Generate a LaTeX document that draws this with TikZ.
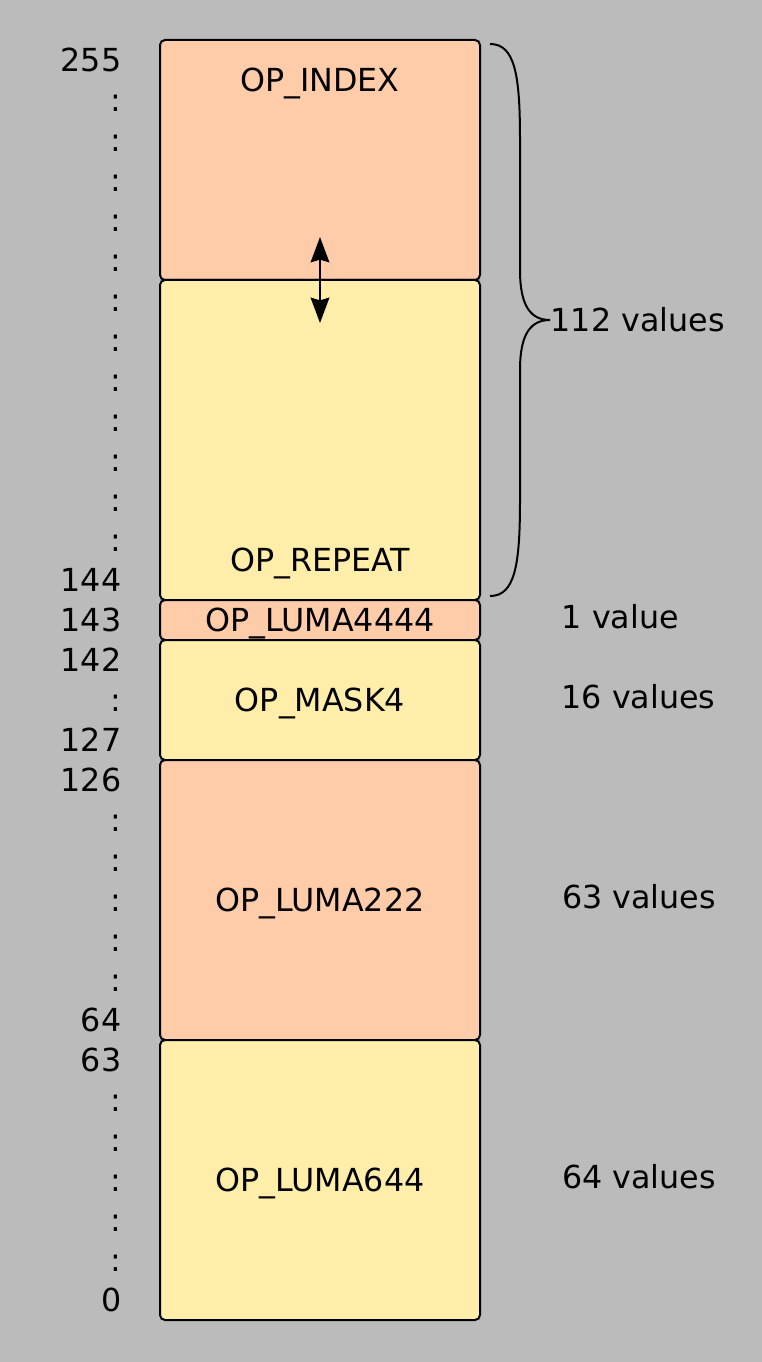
\documentclass[tikz,border=0pt]{standalone}
\usepackage{fontspec}
\setmainfont{DejaVu Sans}
\usetikzlibrary{arrows.meta,positioning}
\definecolor{bgcolor}{HTML}{BBBBBB}
\definecolor{peach}{HTML}{FFCCAA}
\definecolor{sand}{HTML}{FFEEAA}

\begin{document}
\begin{tikzpicture}[x=0.75pt, y=-0.75pt,
    font=\fontsize{23.8}{28}\selectfont,
    box/.style={draw, line width=1.5pt, rounded corners=3.75pt, outer sep=0pt,
                inner sep=0pt, minimum width=240pt, text height=17.35pt, text depth=0pt},
    tag/.style={inner sep=0pt, text height=17.35pt, text depth=0pt},
    num/.style={tag, anchor=east},
    note/.style={tag, anchor=west},
    >={Stealth[length=19pt, width=14pt, inset=2pt]},
    arr/.style={<->, line width=1.5pt}
  ]
  \fill[bgcolor] (0,0) rectangle (762,1362);

  % value ranges
  \node[box, fill=peach, minimum height=180pt] (index) at (320,160) {};
  \node[box, fill=sand,  minimum height=240pt, below=0pt of index]  (repeat) {};
  \node[box, fill=peach, minimum height=30pt,  below=0pt of repeat] (luma4444) {OP\_LUMA4444};
  \node[box, fill=sand,  minimum height=90pt,  below=0pt of luma4444] (mask) {OP\_MASK4};
  \node[box, fill=peach, minimum height=210pt, below=0pt of mask]   (luma222) {OP\_LUMA222};
  \node[box, fill=sand,  minimum height=210pt, below=0pt of luma222] (luma644) {OP\_LUMA644};
  \node[tag] (indextxt)  at ([yshift=-30pt]index.north) {OP\_INDEX};
  \node[tag] (repeattxt) at ([yshift=30pt]repeat.south) {OP\_REPEAT};

  % shared boundary between index and repeat
  \coordinate (up) at (320,237);
  \coordinate (dn) at (320,323);
  \draw[arr] (up) -- (dn);

  % byte values
  \node[num] (n255) at (121.5,60)   {255};
  \node[num] (n144) at (121.5,580)  {144};
  \node[num] (n143) at (121.5,620)  {143};
  \node[num] (n142) at (121.5,660)  {142};
  \node[num] (n127) at (121.5,740)  {127};
  \node[num] (n126) at (121.5,780)  {126};
  \node[num] (n64)  at (121.5,1020) {64};
  \node[num] (n63)  at (121.5,1060) {63};
  \node[num] (n0)   at (121.5,1300) {0};
  \foreach \y in {100,140,...,540,700,820,860,...,980,1100,1140,...,1260}
    \node[num] (dots\y) at (121.5,\y) {:};

  % counts
  \draw[line width=1.5pt] (490,44) .. controls (515,44) and (520,75) .. (520,140)
    -- (520,270) .. controls (520,305) and (530,320) .. (550,320)
    .. controls (530,320) and (520,335) .. (520,370)
    -- (520,500) .. controls (520,565) and (515,596) .. (490,596);
  \node[note] (v112) at (550.5,320) {112 values};
  \node[note] (v1)   at (561.5,617) {1 value};
  \node[note] (v16)  at (561.5,697) {16 values};
  \node[note] (v63)  at (562,897)   {63 values};
  \node[note] (v64)  at (562,1177)  {64 values};
\end{tikzpicture}
\end{document}
